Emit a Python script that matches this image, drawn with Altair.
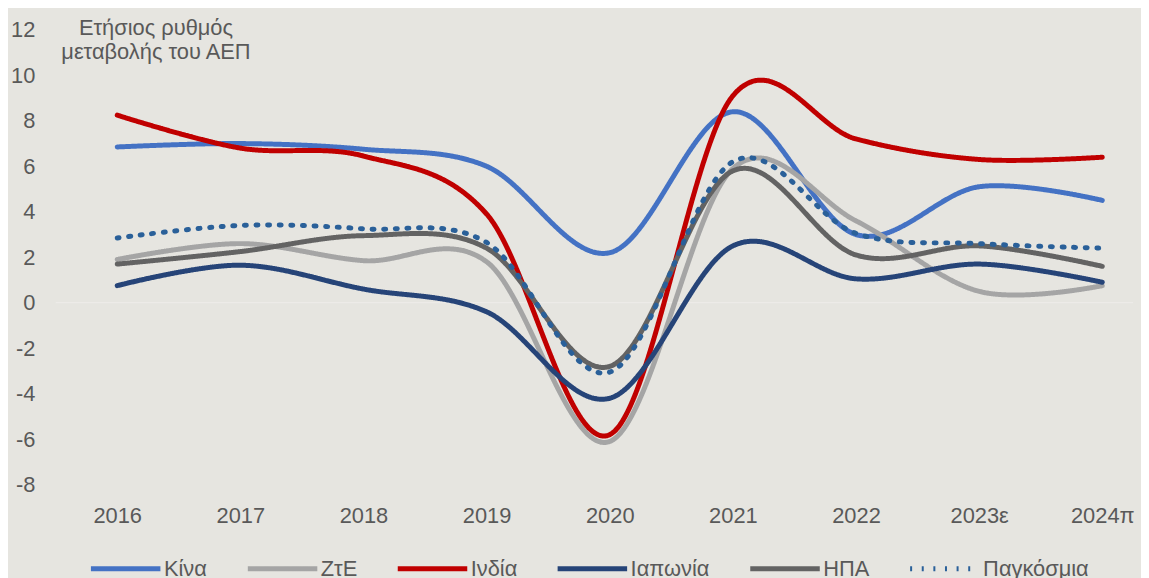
import altair as alt
import pandas as pd

years = ["2016", "2017", "2018", "2019", "2020", "2021", "2022", "2023ε", "2024π"]
series_names = ["Κίνα", "ΖτΕ", "Ινδία", "Ιαπωνία", "ΗΠΑ", "Παγκόσμια"]
china = [6.85, 7.0, 6.75, 6.0, 2.2, 8.4, 3.0, 5.1, 4.5]
zte = [1.9, 2.6, 1.85, 1.8, -6.1, 5.9, 3.6, 0.5, 0.75]
india = [8.25, 6.8, 6.45, 3.9, -5.8, 9.1, 7.2, 6.3, 6.4]
japan = [0.75, 1.65, 0.6, -0.4, -4.2, 2.5, 1.05, 1.7, 0.9]
usa = [1.7, 2.25, 2.95, 2.4, -2.8, 5.8, 2.1, 2.5, 1.6]
world = [2.85, 3.4, 3.25, 2.65, -3.05, 6.2, 3.05, 2.6, 2.4]
title_lines = "Ετήσιος ρυθμός\nμεταβολής του ΑΕΠ"

colors = ["#4472C4", "#A5A5A5", "#C00000", "#264478", "#636363", "#2A6099"]
dashes = [[1, 0], [1, 0], [1, 0], [1, 0], [1, 0], [2, 9.7]]
widths = [5, 5, 5, 5, 5, 6]

all_series = [china, zte, india, japan, usa, world]
rows = []
for name, vals in zip(series_names, all_series):
    for i, v in enumerate(vals):
        rows.append({"series": name, "idx": i, "year": years[i], "value": v})
df = pd.DataFrame(rows)

FONT = "Liberation Sans"
TXT = "#595959"
label_expr = "[" + ",".join("'" + y + "'" for y in years) + "][datum.value]"

x_enc = alt.X(
    "idx:Q",
    scale=alt.Scale(domain=[-0.5, 8.25], nice=False, zero=False),
    axis=alt.Axis(
        values=list(range(len(years))), labelExpr=label_expr, title=None,
        domain=False, ticks=False, grid=False, labelPadding=21,
        labelFontSize=22, labelColor=TXT, labelFont=FONT,
        labelFlush=False, labelOverlap=False, labelBound=False,
    ),
)
y_enc = alt.Y(
    "value:Q",
    scale=alt.Scale(domain=[-8, 12], nice=False),
    axis=alt.Axis(
        values=list(range(-8, 13, 2)), labelExpr="'' + datum.value",
        title=None, domain=False, ticks=False,
        grid=False, labelPadding=21, labelFontSize=22, labelColor=TXT,
        labelFont=FONT,
    ),
)

legend = alt.Legend(
    title=None, orient="none", direction="horizontal", legendX=33, legendY=505,
    symbolType="stroke", symbolSize=4900, symbolStrokeWidth=6,
    labelFontSize=22, labelColor=TXT, labelFont=FONT, labelOffset=1,
    columnPadding=30, columns=6,
)

lines = alt.Chart(df).mark_line(
    interpolate="cardinal", strokeCap="round", strokeJoin="round"
).encode(
    x=x_enc,
    y=y_enc,
    color=alt.Color("series:N", scale=alt.Scale(domain=series_names, range=colors), legend=legend),
    strokeDash=alt.StrokeDash("series:N", scale=alt.Scale(domain=series_names, range=dashes), legend=legend),
    strokeWidth=alt.StrokeWidth("series:N", scale=alt.Scale(domain=series_names, range=widths), legend=None),
    order="idx:Q",
)

zero = alt.Chart(pd.DataFrame({"v": [0]})).mark_rule(color="#EEEDEA", strokeWidth=1).encode(y="v:Q")

title = alt.Chart(pd.DataFrame({"t": [title_lines]})).mark_text(
    font=FONT, fontSize=22, color=TXT, align="center", baseline="top",
    lineBreak="\n", lineHeight=24,
).encode(x=alt.value(101), y=alt.value(-12), text="t:N")

chart = alt.layer(zero, lines, title).properties(
    width=1085, height=458,
    padding={"left": 48, "top": 20, "right": 8, "bottom": 92},
    autosize=alt.AutoSizeParams(type="none"),
    background="#E6E5E0",
).configure_view(stroke=None)

chart.save("out.html", embed_options={"renderer": "svg", "actions": False})
